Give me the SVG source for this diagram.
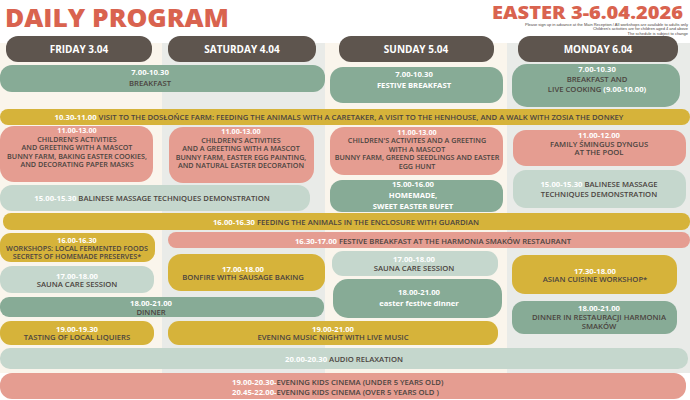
<svg xmlns="http://www.w3.org/2000/svg" width="690" height="400" viewBox="0 0 690 400">
<style>
text{font-family:"Open Sans","Liberation Sans",sans-serif}
.t{font-size:7.7px;font-weight:600;fill:#4b4440;text-anchor:middle}
.st{text-anchor:start}
.k{font-size:7.2px}
.w{fill:#ffffff;font-weight:700}
.h{font-size:10px;font-weight:700;fill:#ffffff;text-anchor:middle}
.hd{fill:#5e554e}
.g{fill:#87ab96}
.l{fill:#c5d7cd}
.p{fill:#e59d91}
.y{fill:#d6b33a}
.s{font-family:"Liberation Sans",sans-serif;font-size:4px;fill:#4b4440;text-anchor:end}
</style>
<rect width="690" height="400" fill="#ffffff"/>
<g id="columns">
<rect x="0" y="43" width="162" height="330" fill="#faf5ec"/>
<rect x="162" y="43" width="163" height="330" fill="#e9ebe8"/>
<rect x="325" y="43" width="182" height="330" fill="#faf5ec"/>
<rect x="507" y="43" width="183" height="330" fill="#e9ebe8"/>
</g>
<g id="title">
<text x="5" y="27" font-size="24" font-weight="800" fill="#d9634f" textLength="224" lengthAdjust="spacingAndGlyphs">DAILY PROGRAM</text>
<text x="683" y="19" font-size="18" font-weight="800" fill="#d9634f" text-anchor="end" textLength="191" lengthAdjust="spacingAndGlyphs">EASTER 3-6.04.2026</text>
<text class="s" x="688" y="25.8">Please sign up in advance at the Main Reception / All workshops are available to adults only</text>
<text class="s" x="688" y="30.4">Children's activities are for children aged 4 and above</text>
<text class="s" x="688" y="35">The schedule is subject to change</text>
</g>
<g id="headers">
<g id="h-fri"><rect class="hd" x="6" y="36" width="146" height="26" rx="12"/><text class="h" x="79" y="53">FRIDAY 3.04</text></g>
<g id="h-sat"><rect class="hd" x="168" y="36" width="148" height="26" rx="12"/><text class="h" x="242" y="53">SATURDAY 4.04</text></g>
<g id="h-sun"><rect class="hd" x="339" y="36" width="155" height="26" rx="12"/><text class="h" x="416" y="53">SUNDAY 5.04</text></g>
<g id="h-mon"><rect class="hd" x="518" y="36" width="160" height="26" rx="12"/><text class="h" x="598" y="53">MONDAY 6.04</text></g>
</g>
<g id="breakfast-fs"><rect class="g" x="0" y="65" width="325" height="27" rx="12"/>
<text class="t" x="150" y="74.8" font-size="8.2"><tspan class="w">7.00-10.30</tspan></text>
<text class="t" x="150" y="85.8" font-size="8.2">BREAKFAST</text></g>
<g id="breakfast-sun"><rect class="g" x="330" y="67" width="173" height="36" rx="13"/>
<text class="t" x="414" y="76.9"><tspan class="w">7.00-10.30</tspan></text>
<text class="t" x="414" y="88" font-size="8.8"><tspan class="w" font-weight="600">FESTIVE BREAKFAST</tspan></text></g>
<g id="breakfast-mon"><rect class="g" x="512" y="64" width="168" height="43" rx="15"/>
<text class="t" x="597" y="71.9" font-size="8.2"><tspan class="w">7.00-10.30</tspan></text>
<text class="t" x="597" y="82" font-size="8.2">BREAKFAST  AND</text>
<text class="t" x="597" y="92" font-size="8.2">LIVE COOKING <tspan class="w" font-weight="600">(9.00-10.00)</tspan></text></g>
<g id="farm"><rect class="y" x="0" y="109" width="690" height="16" rx="8"/>
<text class="t" x="339" y="120" font-size="8.6"><tspan class="w">10.30-11.00</tspan> VISIT TO THE DOSŁOŃCE FARM: FEEDING THE ANIMALS WITH A CARETAKER, A VISIT TO THE HENHOUSE, AND A WALK WITH ZOSIA THE DONKEY</text></g>
<g id="kids-fri"><rect class="p" x="0" y="126" width="153" height="56" rx="14"/>
<text class="t k" x="77" y="133.4"><tspan class="w">11.00-13.00</tspan></text>
<text class="t k" x="77" y="141.7" font-weight="700">CHILDREN'S ACTIVITIES</text>
<text class="t k" x="77" y="150" font-weight="700">AND GREETING WITH A MASCOT</text>
<text class="t k" x="77" y="158.7">BUNNY FARM, BAKING EASTER COOKIES,</text>
<text class="t k" x="77" y="167">AND DECORATING PAPER MASKS</text></g>
<g id="kids-sat"><rect class="p" x="169" y="127" width="145" height="56" rx="14"/>
<text class="t k" x="241" y="134.4"><tspan class="w">11.00-13.00</tspan></text>
<text class="t k" x="241" y="142.7" font-weight="700">CHILDREN'S ACTIVITIES</text>
<text class="t k" x="241" y="151.4" font-weight="700">AND A GREETING  WITH A MASCOT</text>
<text class="t k" x="241" y="159.7">BUNNY FARM, EASTER EGG PAINTING,</text>
<text class="t k" x="241" y="168">AND NATURAL EASTER DECORATION</text></g>
<g id="kids-sun"><rect class="p" x="330" y="127" width="173" height="48" rx="14"/>
<text class="t k" x="417" y="135"><tspan class="w">11.00-13.00</tspan></text>
<text class="t k" x="417" y="143.4" font-weight="700">CHILDREN'S ACTIVITES AND A GREETING</text>
<text class="t k" x="417" y="152" font-weight="700">WITH A MASCOT</text>
<text class="t k" x="417" y="160.4">BUNNY FARM, GREEND SEEDLINGS AND EASTER</text>
<text class="t k" x="417" y="168.7">EGG HUNT</text></g>
<g id="smingus-mon"><rect class="p" x="513" y="130" width="173" height="36" rx="13"/>
<text class="t" x="599" y="137.7"><tspan class="w">11.00-12.00</tspan></text>
<text class="t" x="599" y="146.7" font-size="7.9">FAMILY ŚMINGUS DYNGUS</text>
<text class="t" x="599" y="155.2" font-size="7.9">AT THE POOL</text></g>
<g id="massage-fs"><rect class="l" x="0" y="185" width="310" height="26" rx="12"/>
<text class="t" x="152" y="201.4" font-size="9"><tspan class="w">15.00-15.30</tspan> BALINESE MASSAGE TECHNIQUES DEMONSTRATION</text></g>
<g id="bufet-sun"><rect class="g" x="330" y="180" width="173" height="32" rx="12"/>
<text class="t" x="413" y="187.2" font-size="8.4"><tspan class="w">15.00-16.00</tspan></text>
<text class="t" x="413" y="197.8" font-size="9.2"><tspan class="w" font-weight="600">HOMEMADE,</tspan></text>
<text class="t" x="413" y="209.3" font-size="9.2"><tspan class="w" font-weight="600">SWEET EASTER BUFET</tspan></text></g>
<g id="massage-mon"><rect class="l" x="513" y="170" width="173" height="38" rx="13"/>
<text class="t" x="599" y="187" font-size="8.2"><tspan class="w">15.00-15.30</tspan>  BALINESE MASSAGE</text>
<text class="t" x="599" y="197" font-size="8.2">TECHNIQUES DEMONSTRATION</text></g>
<g id="feeding"><rect class="y" x="3" y="213" width="687" height="17" rx="8"/>
<text class="t" x="346" y="224.5" font-size="8.2"><tspan class="w">16.00-16.30</tspan> FEEDING THE ANIMALS IN THE ENCLOSURE WITH GUARDIAN</text></g>
<g id="festive-breakfast"><rect class="p" x="168" y="232" width="522" height="16" rx="8"/>
<text class="t" x="433" y="243.5" font-size="8.2"><tspan class="w">16.30-17.00</tspan> FESTIVE BREAKFAST AT THE HARMONIA SMAKÓW RESTAURANT</text></g>
<g id="workshop-fri"><rect class="y" x="0" y="233" width="155" height="29" rx="11"/>
<text class="t k" x="77" y="242.7"><tspan class="w">16.00-16.30</tspan></text>
<text class="t k" x="77" y="251">WORKSHOPS: LOCAL FERMENTED FOODS</text>
<text class="t k" x="77" y="258.7">SECRETS OF HOMEMADE PRESERVES*</text></g>
<g id="sauna-fri"><rect class="l" x="0" y="266" width="154" height="27" rx="12"/>
<text class="t" x="77" y="279.4"><tspan class="w">17.00-18.00</tspan></text>
<text class="t" x="77" y="287">SAUNA CARE SESSION</text></g>
<g id="bonfire-sat"><rect class="y" x="168" y="254" width="157" height="37" rx="13"/>
<text class="t" x="243" y="271.7" font-size="8"><tspan class="w">17.00-18.00</tspan></text>
<text class="t" x="243" y="280.2" font-size="8">BONFIRE WITH SAUSAGE BAKING</text></g>
<g id="sauna-sun"><rect class="l" x="332" y="251" width="166" height="25" rx="11"/>
<text class="t" x="414" y="262"><tspan class="w">17.00-18.00</tspan></text>
<text class="t" x="414" y="270.6" font-size="8">SAUNA CARE SESSION</text></g>
<g id="dinner-sun"><rect class="g" x="333" y="279" width="169" height="39" rx="15"/>
<text class="t" x="419" y="294.5" font-size="9"><tspan class="w">18.00-21.00</tspan></text>
<text class="t" x="419" y="306" font-size="9"><tspan class="w">easter festive dinner</tspan></text></g>
<g id="asian-mon"><rect class="y" x="512" y="255" width="165" height="39" rx="13"/>
<text class="t" x="595" y="273.7"><tspan class="w">17.30-18.00</tspan></text>
<text class="t" x="595" y="281.9">ASIAN CUISINE WORKSHOP*</text></g>
<g id="dinner-mon"><rect class="g" x="512" y="301" width="165" height="33" rx="12"/>
<text class="t" x="599" y="311"><tspan class="w">18.00-21.00</tspan></text>
<text class="t" x="599" y="319.6" font-size="8.1">DINNER IN RESTAURACJI HARMONIA</text>
<text class="t" x="599" y="328.6" font-size="8.1">SMAKÓW</text></g>
<g id="dinner-fs"><rect class="g" x="0" y="297" width="324" height="20" rx="9"/>
<text class="t" x="151" y="306"><tspan class="w">18.00-21.00</tspan></text>
<text class="t" x="151" y="314.5" font-size="8">DINNER</text></g>
<g id="tasting-fri"><rect class="y" x="0" y="321" width="154" height="24" rx="11"/>
<text class="t" x="77" y="331.7"><tspan class="w">19.00-19.30</tspan></text>
<text class="t" x="77" y="339.6">TASTING OF LOCAL LIQUIERS</text></g>
<g id="music-ss"><rect class="y" x="168" y="321" width="330" height="24" rx="11"/>
<text class="t" x="333" y="331.7"><tspan class="w">19.00-21.00</tspan></text>
<text class="t" x="333" y="339.6" font-size="8.1">EVENING MUSIC NIGHT WITH LIVE MUSIC</text></g>
<g id="audio"><rect class="l" x="0" y="348" width="688" height="21" rx="10"/>
<text class="t" x="344" y="362.2" font-size="9"><tspan class="w">20.00-20.30</tspan> AUDIO RELAXATION</text></g>
<g id="cinema"><rect class="p" x="0" y="373" width="686" height="26" rx="12"/>
<text class="t st" x="232" y="384.7" font-size="8.1"><tspan class="w">19.00-20.30-</tspan>EVENING KIDS CINEMA (UNDER 5 YEARS OLD)</text>
<text class="t st" x="232" y="394.7" font-size="8.1"><tspan class="w">20.45-22.00-</tspan>EVENING KIDS CINEMA (OVER 5 YEARS OLD )</text></g>
<g id="connectors"></g>
</svg>
